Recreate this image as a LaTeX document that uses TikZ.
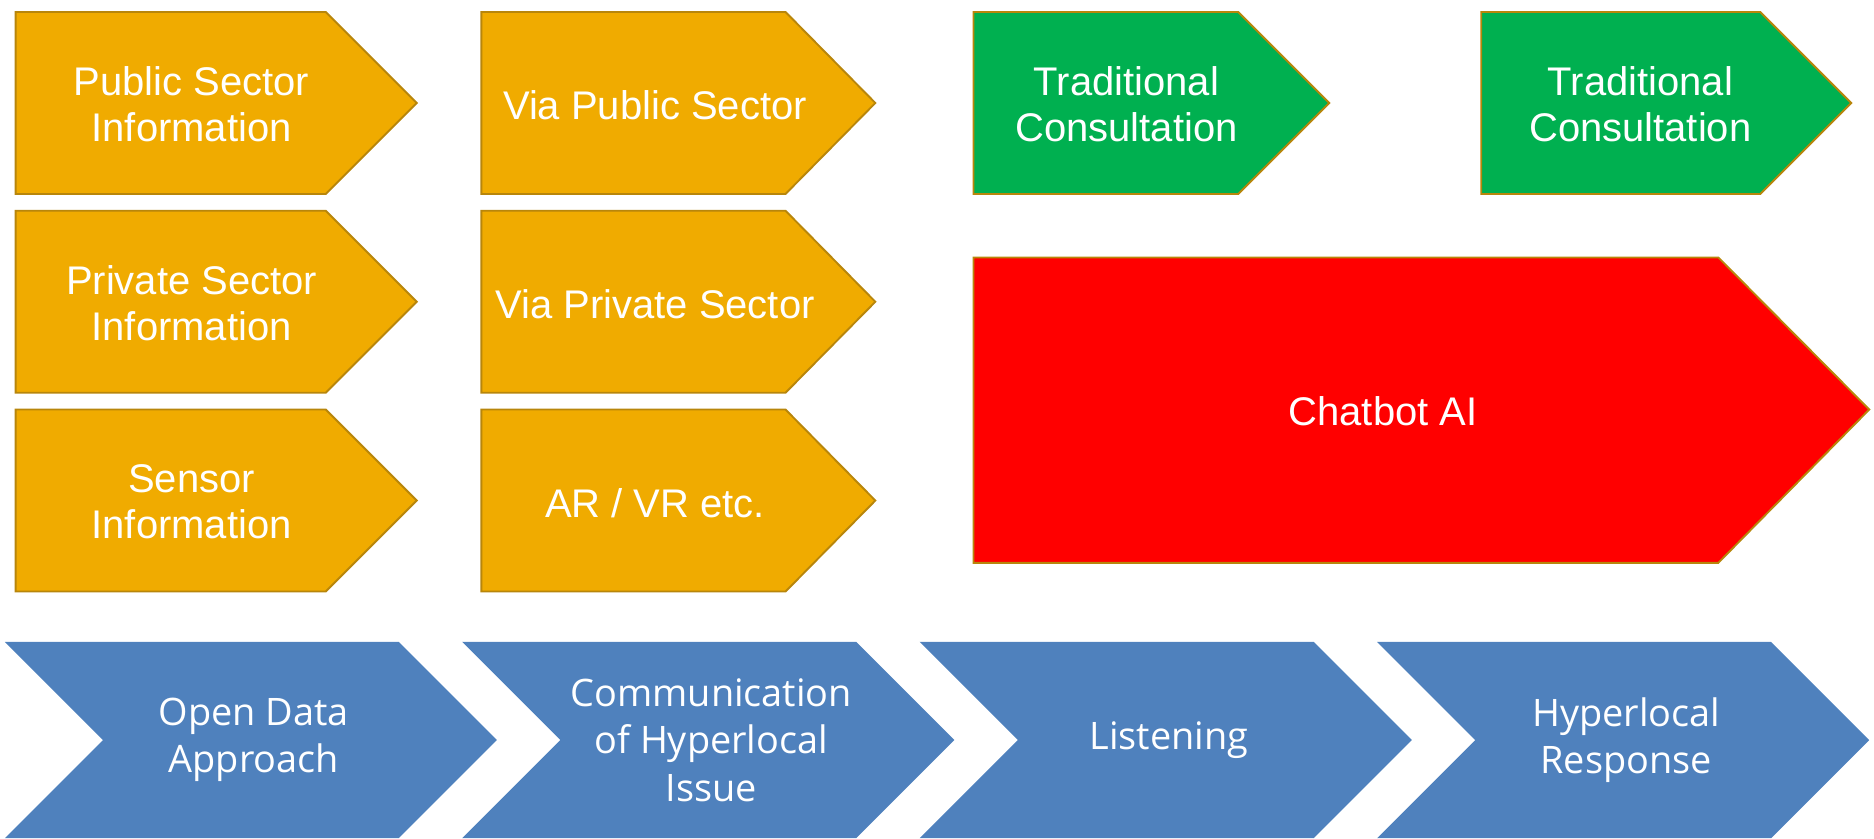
\documentclass[tikz,border=0pt]{standalone}
\usepackage{fontspec}
\setsansfont{Liberation Sans}
\newfontfamily\stagefont{Open Sans}
\usepackage{tikz}
\usetikzlibrary{calc}
\definecolor{infoorange}{HTML}{F0AB00}
\definecolor{consultgreen}{HTML}{00B050}
\definecolor{chatred}{HTML}{FF0000}
\definecolor{stageblue}{HTML}{4F81BD}
\definecolor{boxedge}{HTML}{B8860B}
\tikzstyle{infobox}=[draw=boxedge,fill=infoorange,line width=0.9pt,line join=miter]
\tikzstyle{consultbox}=[infobox,fill=consultgreen]
\tikzstyle{chatbox}=[infobox,fill=chatred]
\tikzstyle{stage}=[fill=stageblue]
\tikzstyle{boxtext}=[text=white,align=center,font=\sffamily\fontsize{19}{22}\selectfont]
\tikzstyle{stagetext}=[text=white,align=center,font=\stagefont\fontsize{18}{22.5}\selectfont]

\begin{document}
\begin{tikzpicture}[x=0.02cm,y=-0.02cm]
   \useasboundingbox (0,0) rectangle (1565,700);

   % first column: information sources
   \foreach \x/\y/\name/\txt in {13/10/pubinfo/{Public Sector\\Information},
                                 13/176/privinfo/{Private Sector\\Information},
                                 13/342/sensinfo/{Sensor\\Information}}
   {
      \draw[infobox] (\x,\y) -- ++(259,0) -- ++(76,76) -- ++(-76,76) -- ++(-259,0) -- cycle;
      \node[boxtext] (\name) at (\x+147,\y+77) {\txt};
   }

   % second column: channels
   \foreach \x/\y/\name/\txt in {402/10/viapub/{Via Public Sector},
                                 402/176/viapriv/{Via Private Sector},
                                 402/342/arvr/{AR / VR etc.}}
   {
      \draw[infobox] (\x,\y) -- ++(254,0) -- ++(75,76) -- ++(-75,76) -- ++(-254,0) -- cycle;
      \node[boxtext] (\name) at (\x+145,\y+78) {\txt};
   }

   % consultation
   \foreach \x/\w/\name in {813/221/consultA, 1237/233/consultB}
   {
      \draw[consultbox] (\x,10) -- ++(\w,0) -- ++(76,76) -- ++(-76,76) -- ++(-\w,0) -- cycle;
      \node[boxtext] (\name) at ({\x+(\w+76)*0.43},87) {Traditional\\Consultation};
   }

   % chatbot
   \draw[chatbox] (813,215) -- (1435,215) -- (1561,342) -- (1435,470) -- (813,470) -- cycle;
   \node[boxtext] (chatbot) at (1155,343) {Chatbot AI};

   % process chevrons
   \foreach \x/\name/\txt in {4/opendata/{Open Data\\Approach},
                              386/communic/{Communication\\of Hyperlocal\\Issue},
                              768/listening/{Listening},
                              1150/response/{Hyperlocal\\Response}}
   {
      \fill[stage] (\x,536) -- ++(329,0) -- ++(82,82) -- ++(-82,82) -- ++(-329,0) -- ++(82,-82) -- cycle;
      \node[stagetext] (\name) at (\x+208,618) {\txt};
   }

\end{tikzpicture}
\end{document}
